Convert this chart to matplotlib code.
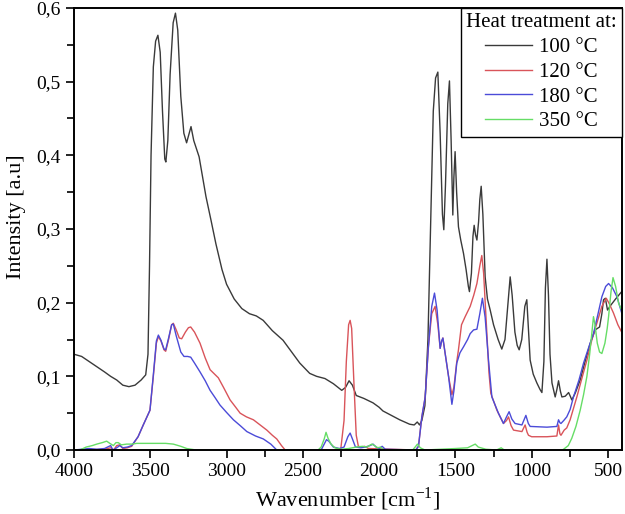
import matplotlib
matplotlib.use("Agg")
import matplotlib.pyplot as plt
from matplotlib.ticker import FuncFormatter, MultipleLocator

plt.rcParams['font.family'] = ['Liberation Serif', 'DejaVu Serif']
plt.rcParams['mathtext.fontset'] = 'custom'
plt.rcParams['mathtext.rm'] = 'Liberation Serif'

# ---- data (wavenumber [cm-1], intensity [a.u]) ----
w_100 = [4000, 3950, 3900, 3850, 3800, 3760, 3720, 3680, 3640, 3600, 3560, 3530,
         3515, 3505, 3495, 3480, 3465, 3450, 3435, 3420, 3405, 3398, 3385, 3370,
         3350, 3335, 3320, 3300, 3280, 3262, 3245, 3233, 3215, 3180, 3135, 3100,
         3070, 3030, 3000, 2950, 2900, 2850, 2805, 2760, 2700, 2630, 2580, 2520,
         2455, 2410, 2355, 2300, 2245, 2220, 2197, 2175, 2150, 2100, 2040, 2000,
         1975, 1920, 1865, 1800, 1770, 1750, 1735, 1720, 1700, 1680, 1660, 1645,
         1630, 1615, 1600, 1585, 1576, 1565, 1550, 1539, 1528, 1517, 1510, 1502,
         1492, 1480, 1465, 1447, 1430, 1415, 1408, 1395, 1385, 1377, 1368, 1359,
         1348, 1340, 1331, 1320, 1305, 1290, 1272, 1250, 1220, 1196, 1175, 1155,
         1141, 1128, 1110, 1095, 1082, 1065, 1045, 1032, 1020, 1010, 990, 966,
         945, 933, 920, 910, 900, 890, 880, 867, 846, 835, 824, 812, 802, 780,
         758, 747, 737, 715, 682, 650, 616, 584, 555, 540, 529, 517, 503, 480,
         450, 410]
i_100 = [0.130, 0.127, 0.120, 0.113, 0.106, 0.100, 0.095, 0.088, 0.086, 0.088, 0.095, 0.102,
         0.130, 0.250, 0.400, 0.520, 0.555, 0.563, 0.540, 0.460, 0.395, 0.391, 0.420, 0.510,
         0.580, 0.593, 0.570, 0.480, 0.430, 0.417, 0.430, 0.439, 0.420, 0.398, 0.344, 0.310,
         0.280, 0.245, 0.225, 0.205, 0.192, 0.185, 0.182, 0.176, 0.162, 0.149, 0.135, 0.118,
         0.104, 0.100, 0.097, 0.090, 0.081, 0.085, 0.094, 0.088, 0.074, 0.070, 0.064, 0.058,
         0.053, 0.047, 0.041, 0.035, 0.034, 0.038, 0.034, 0.040, 0.060, 0.150, 0.330, 0.460,
         0.505, 0.513, 0.430, 0.320, 0.299, 0.360, 0.470, 0.501, 0.420, 0.319, 0.370, 0.405,
         0.350, 0.303, 0.285, 0.267, 0.245, 0.222, 0.215, 0.240, 0.290, 0.305, 0.292, 0.285,
         0.310, 0.340, 0.358, 0.320, 0.235, 0.205, 0.190, 0.170, 0.150, 0.137, 0.150, 0.200,
         0.235, 0.210, 0.160, 0.142, 0.136, 0.150, 0.195, 0.204, 0.160, 0.122, 0.103, 0.091,
         0.082, 0.078, 0.120, 0.220, 0.259, 0.210, 0.130, 0.091, 0.072, 0.082, 0.094, 0.080,
         0.072, 0.073, 0.078, 0.073, 0.068, 0.077, 0.095, 0.120, 0.145, 0.163, 0.167, 0.185,
         0.204, 0.206, 0.190, 0.197, 0.205, 0.215]

w_120 = [4000, 3800, 3760, 3740, 3720, 3700, 3680, 3650, 3622, 3580, 3546, 3502,
         3480, 3460, 3447, 3430, 3410, 3399, 3380, 3360, 3349, 3330, 3310, 3294,
         3270, 3250, 3235, 3210, 3174, 3140, 3108, 3054, 3020, 2977, 2940, 2911,
         2870, 2824, 2780, 2736, 2700, 2671, 2640, 2616, 2260, 2251, 2230, 2215,
         2200, 2190, 2180, 2165, 2150, 2136, 2115, 2095, 2070, 1760, 1742, 1720,
         1698, 1677, 1655, 1633, 1615, 1600, 1590, 1582, 1570, 1545, 1523, 1510,
         1491, 1480, 1460, 1436, 1403, 1380, 1359, 1340, 1327, 1315, 1294, 1280,
         1268, 1228, 1185, 1165, 1152, 1135, 1119, 1064, 1043, 1030, 1021, 1000,
         900, 835, 824, 815, 808, 787, 770, 748, 704, 670, 638, 605, 573, 540,
         511, 490, 464, 435, 410]
i_120 = [0.0, 0.001, 0.003, 0.0, 0.006, 0.007, 0.002, 0.003, 0.005, 0.018, 0.034, 0.054,
         0.100, 0.145, 0.154, 0.148, 0.136, 0.134, 0.150, 0.170, 0.172, 0.163, 0.152, 0.151,
         0.160, 0.166, 0.167, 0.160, 0.145, 0.125, 0.109, 0.098, 0.085, 0.068, 0.058, 0.050,
         0.045, 0.041, 0.034, 0.027, 0.020, 0.015, 0.006, 0.0, 0.0, 0.002, 0.040, 0.120,
         0.170, 0.176, 0.165, 0.090, 0.020, 0.005, 0.004, 0.005, 0.002, 0.0, 0.005, 0.045,
         0.072, 0.140, 0.185, 0.195, 0.170, 0.138, 0.148, 0.152, 0.135, 0.100, 0.075, 0.085,
         0.120, 0.136, 0.170, 0.181, 0.195, 0.210, 0.226, 0.250, 0.264, 0.240, 0.159, 0.105,
         0.077, 0.054, 0.036, 0.040, 0.045, 0.033, 0.027, 0.025, 0.034, 0.024, 0.020, 0.018,
         0.018, 0.019, 0.034, 0.022, 0.020, 0.027, 0.030, 0.041, 0.072, 0.098, 0.122, 0.150,
         0.172, 0.195, 0.206, 0.198, 0.186, 0.170, 0.160]

w_180 = [4000, 3950, 3900, 3850, 3800, 3760, 3745, 3720, 3700, 3680, 3650, 3622,
         3580, 3546, 3502, 3480, 3460, 3447, 3430, 3410, 3399, 3380, 3360, 3349,
         3330, 3300, 3279, 3255, 3235, 3210, 3174, 3140, 3108, 3075, 3043, 3000,
         2955, 2910, 2867, 2810, 2759, 2710, 2671, 2380, 2360, 2345, 2330, 2300,
         2260, 2230, 2205, 2190, 2175, 2155, 2120, 2090, 2060, 2040, 2020, 2000,
         1980, 1960, 1760, 1742, 1720, 1698, 1677, 1655, 1637, 1620, 1600, 1590,
         1582, 1570, 1545, 1523, 1510, 1491, 1470, 1447, 1420, 1403, 1381, 1359,
         1340, 1323, 1305, 1283, 1261, 1218, 1185, 1165, 1148, 1130, 1109, 1064,
         1038, 1022, 1010, 900, 835, 824, 815, 808, 790, 770, 748, 726, 690, 660,
         625, 595, 565, 540, 515, 496, 470, 441, 410]
i_180 = [0.0, 0.001, 0.002, 0.001, 0.002, 0.006, 0.0, 0.003, 0.006, 0.003, 0.004, 0.006,
         0.018, 0.034, 0.054, 0.102, 0.148, 0.156, 0.149, 0.137, 0.136, 0.152, 0.170, 0.171,
         0.155, 0.133, 0.127, 0.127, 0.126, 0.118, 0.106, 0.094, 0.081, 0.071, 0.061, 0.051,
         0.041, 0.033, 0.025, 0.019, 0.015, 0.008, 0.0, 0.0, 0.008, 0.014, 0.012, 0.004,
         0.002, 0.004, 0.018, 0.023, 0.015, 0.004, 0.003, 0.004, 0.006, 0.008, 0.004, 0.002,
         0.005, 0.001, 0.0, 0.005, 0.045, 0.072, 0.140, 0.195, 0.213, 0.190, 0.138, 0.148,
         0.152, 0.135, 0.100, 0.062, 0.080, 0.118, 0.132, 0.140, 0.150, 0.158, 0.163, 0.164,
         0.185, 0.206, 0.180, 0.122, 0.072, 0.050, 0.036, 0.045, 0.052, 0.042, 0.036, 0.034,
         0.047, 0.036, 0.032, 0.031, 0.032, 0.041, 0.037, 0.036, 0.040, 0.045, 0.055, 0.072,
         0.095, 0.118, 0.140, 0.158, 0.185, 0.208, 0.222, 0.226, 0.220, 0.208, 0.186]

w_350 = [4000, 3961, 3920, 3880, 3851, 3815, 3786, 3765, 3742, 3725, 3710, 3690,
         3655, 3620, 3589, 3520, 3458, 3400, 3349, 3300, 3261, 3200, 2400, 2380,
         2360, 2348, 2335, 2315, 2290, 2250, 2200, 2150, 2110, 2080, 2048, 2030,
         2010, 1990, 1970, 1780, 1760, 1749, 1730, 1700, 1600, 1500, 1420, 1390,
         1370, 1350, 1300, 1230, 1200, 1180, 800, 791, 760, 737, 710, 682, 660,
         638, 620, 606, 595, 585, 570, 555, 540, 520, 505, 496, 480, 467, 450,
         430, 410]
i_350 = [0.0, 0.0, 0.004, 0.006, 0.008, 0.010, 0.012, 0.009, 0.006, 0.010, 0.010, 0.007,
         0.008, 0.008, 0.009, 0.009, 0.009, 0.009, 0.008, 0.005, 0.002, 0.0, 0.0, 0.004,
         0.015, 0.024, 0.016, 0.008, 0.003, 0.001, 0.002, 0.004, 0.005, 0.004, 0.008, 0.006,
         0.003, 0.004, 0.0, 0.0, 0.005, 0.008, 0.003, 0.0, 0.001, 0.002, 0.003, 0.006,
         0.008, 0.004, 0.001, 0.0, 0.003, 0.0, 0.0, 0.001, 0.006, 0.016, 0.032, 0.054, 0.075,
         0.100, 0.130, 0.158, 0.181, 0.170, 0.145, 0.133, 0.131, 0.145, 0.165, 0.181, 0.215,
         0.234, 0.222, 0.199, 0.190]

series = [
    ("100 °C", w_100, i_100, "#3a3a3a"),
    ("120 °C", w_120, i_120, "#d9545a"),
    ("180 °C", w_180, i_180, "#4b4bd8"),
    ("350 °C", w_350, i_350, "#66dd66"),
]

fig = plt.figure(figsize=(6.25, 5.14), dpi=100)
ax = fig.add_axes([74 / 625, 1 - 450 / 514, 548 / 625, 442 / 514])

for label, w, y, c in series:
    ax.plot(w, y, color=c, lw=1.0, label=label)

ax.set_xlim(4000, 408)
ax.set_ylim(0, 0.6)
ax.xaxis.set_major_locator(MultipleLocator(500))
ax.xaxis.set_minor_locator(MultipleLocator(250))
ax.yaxis.set_major_locator(MultipleLocator(0.1))
ax.yaxis.set_minor_locator(MultipleLocator(0.05))
ax.yaxis.set_major_formatter(FuncFormatter(lambda v, p: f"{v:.1f}".replace(".", ",")))
ax.tick_params(which="both", direction="out", width=1.2, labelsize=14, colors="black")
ax.tick_params(which="major", length=6)
ax.tick_params(which="minor", length=5)
for s in ax.spines.values():
    s.set_linewidth(1.4)

ax.set_xlabel(r"Wavenumber [cm$^{\mathregular{-1}}$]", fontsize=16, labelpad=4)
ax.set_ylabel("Intensity [a.u]", fontsize=16)
ax.yaxis.set_label_coords(-0.088, 0.527)

leg = ax.legend(title="Heat treatment at:", loc="upper right", borderaxespad=0,
                fontsize=15, title_fontsize=15, handlelength=2.25, handletextpad=0.35,
                labelspacing=0.25, borderpad=0.25, fancybox=False, framealpha=1,
                edgecolor="black")
leg.get_frame().set_linewidth(1.0)

fig.savefig("out.png", dpi=100)
